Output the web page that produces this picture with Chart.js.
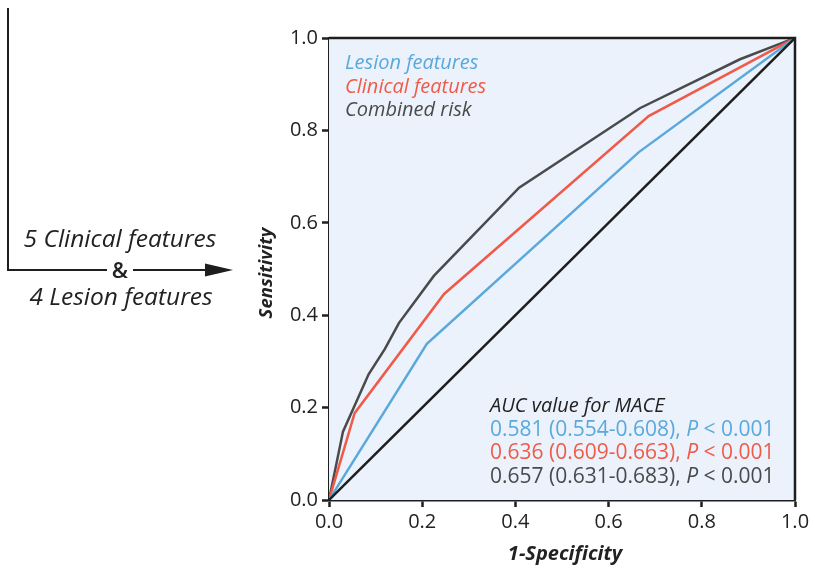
<!DOCTYPE html>
<html>
<head>
<meta charset="utf-8">
<script src="https://cdn.jsdelivr.net/npm/chart.js@4"></script>
<style>
  html, body { margin: 0; padding: 0; background: #fff; }
  #wrap { width: 815px; height: 573px; }
</style>
</head>
<body>
<div id="wrap"><canvas id="roc"></canvas></div>
<script>
// ROC points (1-specificity, sensitivity)
const lesionX   = [0, 0.21, 0.665, 1];
const lesionY   = [0, 0.338, 0.753, 1];
const clinicalX = [0, 0.055, 0.247, 0.686, 1];
const clinicalY = [0, 0.188, 0.446, 0.831, 1];
const combinedX = [0, 0.03, 0.085, 0.12, 0.15, 0.225, 0.408, 0.667, 0.882, 1];
const combinedY = [0, 0.148, 0.272, 0.327, 0.383, 0.485, 0.676, 0.848, 0.954, 1];
const refX = [0, 1];
const refY = [0, 1];

const seriesNames = ['Lesion features', 'Clinical features', 'Combined risk'];
const aucLines = [
  ['0.581 (0.554-0.608), ', '< 0.001'],
  ['0.636 (0.609-0.663), ', '< 0.001'],
  ['0.657 (0.631-0.683), ', '< 0.001']
];
const tickValues = [0, 0.2, 0.4, 0.6, 0.8, 1.0];

const blue = '#5aa8dc';
const red = '#f05a48';
const grey = '#4a4a4c';
const black = '#1e1e1e';
const FONT = '"Open Sans", "Noto Sans", sans-serif';

function toPoints(xs, ys) {
  return xs.map((x, i) => ({ x: x, y: ys[i] }));
}

const canvas = document.getElementById('roc');

// plot background, frame and all the free text
const decorPlugin = {
  id: 'decor',
  beforeDatasetsDraw(chart) {
    const a = chart.chartArea;
    const ctx = chart.ctx;
    ctx.save();
    ctx.fillStyle = '#ebf2fb';
    ctx.fillRect(a.left, a.top, a.right - a.left, a.bottom - a.top);
    ctx.restore();
  },
  afterDraw(chart) {
    const a = chart.chartArea;
    const ctx = chart.ctx;
    ctx.save();
    // top + right frame
    ctx.strokeStyle = black;
    ctx.lineWidth = 2.5;
    ctx.beginPath();
    ctx.moveTo(a.left, a.top);
    ctx.lineTo(a.right, a.top);
    ctx.lineTo(a.right, a.bottom);
    ctx.stroke();

    // legend text
    ctx.textBaseline = 'alphabetic';
    ctx.textAlign = 'left';
    ctx.font = 'italic 500 20px ' + FONT;
    const legendColors = [blue, red, grey];
    seriesNames.forEach((n, i) => {
      ctx.fillStyle = legendColors[i];
      ctx.fillText(n, 345, 69 + i * 23.5);
    });

    // AUC block
    ctx.fillStyle = '#222';
    ctx.font = 'italic 500 20px ' + FONT;
    ctx.fillText('AUC value for MACE', 490, 412);
    aucLines.forEach((l, i) => {
      const y = 435.5 + i * 23.5;
      ctx.fillStyle = legendColors[i];
      ctx.font = '500 21px ' + FONT;
      ctx.fillText(l[0], 490, y);
      let x = 490 + ctx.measureText(l[0]).width;
      ctx.font = 'italic 500 21px ' + FONT;
      ctx.fillText('P', x, y);
      x += ctx.measureText('P ').width;
      ctx.font = '500 21px ' + FONT;
      ctx.fillText(l[1], x, y);
    });

    // axis titles
    ctx.fillStyle = '#222';
    ctx.font = 'italic bold 20px ' + FONT;
    ctx.textAlign = 'center';
    ctx.fillText('1-Specificity', (a.left + a.right) / 2 + 3, 560);
    ctx.save();
    ctx.translate(272, (a.top + a.bottom) / 2 + 4);
    ctx.rotate(-Math.PI / 2);
    ctx.font = 'italic bold 18.5px ' + FONT;
    ctx.fillText('Sensitivity', 0, 0);
    ctx.restore();

    // left flow annotation
    ctx.strokeStyle = black;
    ctx.lineWidth = 2;
    ctx.beginPath();
    ctx.moveTo(8, 8);
    ctx.lineTo(8, 270);
    ctx.lineTo(107, 270);
    ctx.moveTo(133, 270);
    ctx.lineTo(212, 270);
    ctx.stroke();
    ctx.fillStyle = black;
    ctx.beginPath();
    ctx.moveTo(205, 263.5);
    ctx.lineTo(233, 270);
    ctx.lineTo(205, 276.5);
    ctx.closePath();
    ctx.fill();

    ctx.fillStyle = '#222';
    ctx.font = 'italic 500 24.5px ' + FONT;
    ctx.textAlign = 'center';
    ctx.fillText('5 Clinical features', 120, 247);
    ctx.font = '600 22px ' + FONT;
    ctx.fillText('&', 120, 278);
    ctx.font = 'italic 500 24.5px ' + FONT;
    ctx.fillText('4 Lesion features', 121, 305);
    ctx.restore();
  }
};

const tickOpts = {
  color: '#222',
  font: { family: FONT, size: 20, weight: '500' },
  callback: v => Number(v).toFixed(1)
};

const rocChart = new Chart(canvas, {
  type: 'line',
  data: {
    datasets: [
      { label: 'Reference', data: toPoints(refX, refY), borderColor: black, borderWidth: 2.5 },
      { label: seriesNames[0], data: toPoints(lesionX, lesionY), borderColor: blue, borderWidth: 2.5 },
      { label: seriesNames[1], data: toPoints(clinicalX, clinicalY), borderColor: red, borderWidth: 2.5 },
      { label: seriesNames[2], data: toPoints(combinedX, combinedY), borderColor: grey, borderWidth: 2.5 }
    ]
  },
  options: {
    responsive: true,
    maintainAspectRatio: false,
    animation: false,
    elements: { point: { radius: 0 }, line: { tension: 0 } },
    layout: { padding: { top: 38, right: 20, left: 0, bottom: 0 } },
    plugins: { legend: { display: false }, tooltip: { enabled: false } },
    scales: {
      x: {
        type: 'linear',
        min: 0, max: 1,
        afterBuildTicks: s => { s.ticks = tickValues.map(v => ({ value: v })); },
        afterFit: s => { s.height = 73; },
        grid: { drawOnChartArea: false, tickLength: 7, tickWidth: 2.5, tickColor: black },
        border: { color: black, width: 2.5 },
        ticks: Object.assign({ padding: 3 }, tickOpts)
      },
      y: {
        type: 'linear',
        min: 0, max: 1,
        afterBuildTicks: s => { s.ticks = tickValues.map(v => ({ value: v })); },
        afterFit: s => { s.width = 329; },
        grid: { drawOnChartArea: false, tickLength: 7, tickWidth: 2.5, tickColor: black },
        border: { color: black, width: 2.5 },
        ticks: Object.assign({ padding: 4 }, tickOpts)
      }
    }
  },
  plugins: [decorPlugin]
});
</script>
</body>
</html>
